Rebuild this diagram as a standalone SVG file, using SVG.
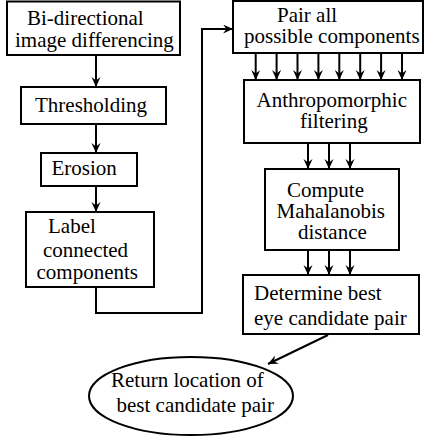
<svg xmlns="http://www.w3.org/2000/svg" width="424" height="437" viewBox="0 0 424 437">
<style>
.box{fill:#fff;stroke:#000;stroke-width:2}
.c{fill:none;stroke:#000;stroke-width:2}
text{font-family:'Liberation Serif','Times New Roman',serif;font-size:21px;fill:#000}
</style>
<defs>
<marker id="ah" markerUnits="userSpaceOnUse" markerWidth="12" markerHeight="12" refX="10" refY="4.5" orient="auto">
<path d="M0,0 L10,4.5 L0,9 L3.5,4.5 Z" fill="#000"/>
</marker>
</defs>
<rect width="424" height="437" fill="#fff"/>
<g id="connectors">
<path class="c" d="M96,55 V87" marker-end="url(#ah)"/>
<path class="c" d="M96,124 V153" marker-end="url(#ah)"/>
<path class="c" d="M96,186 V212" marker-end="url(#ah)"/>
<path class="c" d="M96,287 V313 H202 V29 H233" marker-end="url(#ah)"/>
<path class="c" d="M255.7,53 V80" marker-end="url(#ah)"/>
<path class="c" d="M276.6,53 V80" marker-end="url(#ah)"/>
<path class="c" d="M297.5,53 V80" marker-end="url(#ah)"/>
<path class="c" d="M318.4,53 V80" marker-end="url(#ah)"/>
<path class="c" d="M339.3,53 V80" marker-end="url(#ah)"/>
<path class="c" d="M360.2,53 V80" marker-end="url(#ah)"/>
<path class="c" d="M381.1,53 V80" marker-end="url(#ah)"/>
<path class="c" d="M402,53 V80" marker-end="url(#ah)"/>
<path class="c" d="M308,143 V169" marker-end="url(#ah)"/>
<path class="c" d="M329,143 V169" marker-end="url(#ah)"/>
<path class="c" d="M350,143 V169" marker-end="url(#ah)"/>
<path class="c" d="M308,250 V275" marker-end="url(#ah)"/>
<path class="c" d="M329,250 V275" marker-end="url(#ah)"/>
<path class="c" d="M350,250 V275" marker-end="url(#ah)"/>
<path class="c" d="M328,335 L268,364" marker-end="url(#ah)"/>
</g>
<g id="n1"><rect class="box" x="7" y="1.5" width="173" height="53.5"/>
<text x="27" y="25">Bi-directional</text>
<text x="15" y="47">image differencing</text></g>
<g id="n2"><rect class="box" x="21" y="87" width="145" height="37"/>
<text x="35" y="111.5">Thresholding</text></g>
<g id="n3"><rect class="box" x="41" y="153" width="96" height="33"/>
<text x="51.5" y="175">Erosion</text></g>
<g id="n4"><rect class="box" x="26" y="212" width="128" height="75"/>
<text x="48" y="233">Label</text>
<text x="43" y="256.5">connected</text>
<text x="36.5" y="279">components</text></g>
<g id="n5"><rect class="box" x="233" y="1" width="190" height="52"/>
<text x="277" y="21.5">Pair all</text>
<text x="244" y="43">possible components</text></g>
<g id="n6"><rect class="box" x="244" y="80" width="176" height="63"/>
<text x="256.5" y="106.5">Anthropomorphic</text>
<text x="300" y="128">filtering</text></g>
<g id="n7"><rect class="box" x="265" y="169" width="134" height="81"/>
<text x="287" y="197">Compute</text>
<text x="276.5" y="218">Mahalanobis</text>
<text x="298" y="239">distance</text></g>
<g id="n8"><rect class="box" x="243" y="275" width="176" height="59"/>
<text x="254" y="300">Determine best</text>
<text x="254" y="325">eye candidate pair</text></g>
<g id="n9"><ellipse class="box" cx="191" cy="396" rx="102" ry="39"/>
<text x="111" y="387">Return location of</text>
<text x="116.5" y="411.5">best candidate pair</text></g>
</svg>
